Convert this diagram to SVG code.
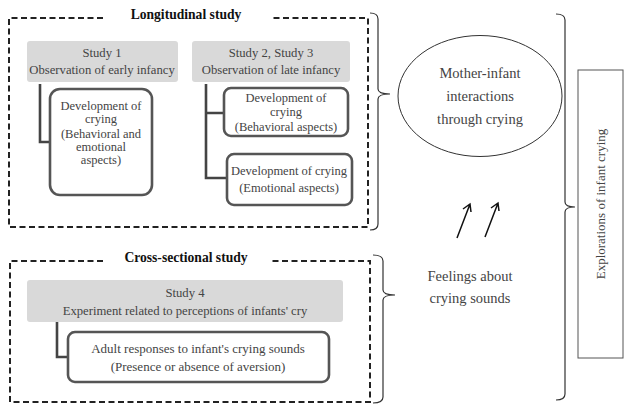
<svg xmlns="http://www.w3.org/2000/svg" width="627" height="413" viewBox="0 0 627 413">
<style>
.t{font-family:"Liberation Serif","Times New Roman",serif;font-size:12.7px;fill:#444;text-anchor:middle}
.s{font-size:12.5px}
.a{font-size:13px}
.b{font-size:14.5px}
.h{font-family:"Liberation Serif","Times New Roman",serif;font-size:13.6px;font-weight:bold;fill:#111;text-anchor:middle}
.dash{fill:none;stroke:#222;stroke-width:2;stroke-dasharray:6 3.5}
.gray{fill:#d9d9d9;stroke:none}
.node{fill:#fff;stroke:#555;stroke-width:2.6}
.conn{fill:none;stroke:#444;stroke-width:2.6}
.brace{fill:none;stroke:#333;stroke-width:1.2}
.arr{fill:none;stroke:#111;stroke-width:1.5}
</style>
<rect width="627" height="413" fill="#fff"/>
<g id="longitudinal">
<path class="dash" d="M103 18 H9 V227 H368 V18 H270"/>
<text class="h" x="186" y="19">Longitudinal study</text>
</g>
<g id="study1">
<rect class="gray" x="27" y="41" width="151" height="41" rx="3"/>
<text class="t" x="102" y="57">Study 1</text>
<text class="t" x="102" y="74">Observation of early infancy</text>
</g>
<g id="study23">
<rect class="gray" x="192" y="41" width="158" height="41" rx="3"/>
<text class="t" x="271" y="57">Study 2, Study 3</text>
<text class="t" x="271" y="74">Observation of late infancy</text>
</g>
<g id="connectors">
<path class="conn" d="M40 84 V142 H50"/>
<path class="conn" d="M206 84 V178 H228 M206 113 H224"/>
<path class="conn" d="M57 322 V357 H68"/>
</g>
<g id="dev1">
<rect class="node" x="50" y="89" width="102" height="106" rx="10"/>
<text class="t s" x="101" y="110">Development of</text>
<text class="t s" x="101" y="123">crying</text>
<text class="t s" x="101" y="138">(Behavioral and</text>
<text class="t s" x="101" y="151">emotional</text>
<text class="t s" x="101" y="164">aspects)</text>
</g>
<g id="dev2">
<rect class="node" x="224" y="88" width="124" height="48" rx="7"/>
<text class="t s" x="286" y="102">Development of</text>
<text class="t s" x="286" y="116">crying</text>
<text class="t s" x="286" y="131">(Behavioral aspects)</text>
</g>
<g id="dev3">
<rect class="node" x="227" y="154" width="125" height="51" rx="7"/>
<text class="t s" x="289" y="175">Development of crying</text>
<text class="t s" x="289" y="192">(Emotional aspects)</text>
</g>
<g id="cross">
<path class="dash" d="M103 261 H10 V402 H370 V261 H270"/>
<text class="h" x="186" y="262">Cross-sectional study</text>
</g>
<g id="study4">
<rect class="gray" x="27" y="280" width="316" height="42" rx="3"/>
<text class="t" x="185" y="297">Study 4</text>
<text class="t" x="185" y="315">Experiment related to perceptions of infants' cry</text>
</g>
<g id="adult">
<rect class="node" x="68" y="332" width="261" height="50" rx="7"/>
<text class="t a" x="198" y="353">Adult responses to infant's crying sounds</text>
<text class="t a" x="198" y="371">(Presence or absence of aversion)</text>
</g>
<g id="braces">
<path class="brace" d="M370 13 Q378 13 378 19 V89 Q378 94 390 94 Q378 94 378 99 V224 Q378 230 370 230"/>
<path class="brace" d="M373 255 Q383 255 383 261 V290 Q383 295 395 295 Q383 295 383 300 V397 Q383 403 373 403"/>
<path class="brace" d="M556 14 Q565 14 565 20 V202 Q565 207 575 207 Q565 207 565 212 V394 Q565 400 556 400"/>
</g>
<g id="mother">
<ellipse cx="480" cy="96" rx="82" ry="60.5" fill="#fff" stroke="#333" stroke-width="1"/>
<text class="t b" x="480" y="78">Mother-infant</text>
<text class="t b" x="480" y="101">interactions</text>
<text class="t b" x="480" y="124">through crying</text>
</g>
<g id="arrows">
<path class="arr" d="M457 238 L470 204 M463 209 L470 204 L471 212"/>
<path class="arr" d="M485 237 L498 203 M491 208 L498 203 L499 211"/>
</g>
<g id="feelings">
<text class="t b" x="470" y="281">Feelings about</text>
<text class="t b" x="470" y="303">crying sounds</text>
</g>
<g id="explorations">
<rect x="578" y="70" width="45" height="288" fill="#fff" stroke="#555" stroke-width="1"/>
<text class="t a" transform="translate(605 204) rotate(-90)">Explorations of infant crying</text>
</g>
</svg>
